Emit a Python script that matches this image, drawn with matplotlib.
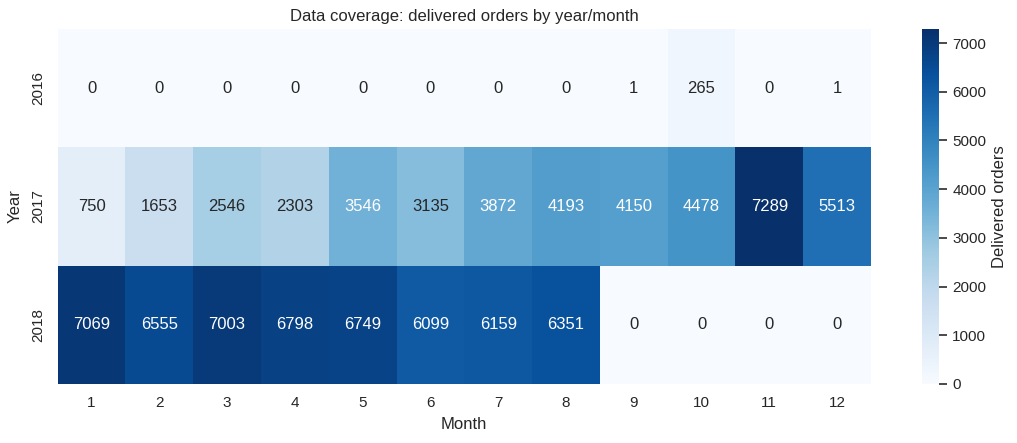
import numpy as np
import pandas as pd
import matplotlib
matplotlib.use("Agg")
import matplotlib.pyplot as plt
import seaborn as sns

sns.set_theme()
plt.rcParams['font.family'] = ['Liberation Sans', 'DejaVu Sans']

years = [2016, 2017, 2018]
months = list(range(1, 13))
orders_2016 = [0, 0, 0, 0, 0, 0, 0, 0, 1, 265, 0, 1]
orders_2017 = [750, 1653, 2546, 2303, 3546, 3135, 3872, 4193, 4150, 4478, 7289, 5513]
orders_2018 = [7069, 6555, 7003, 6798, 6749, 6099, 6159, 6351, 0, 0, 0, 0]

df = pd.DataFrame([orders_2016, orders_2017, orders_2018], index=years, columns=months)
df.index.name = "Year"
df.columns.name = "Month"

fig = plt.figure(figsize=(10.17, 4.43), dpi=100)
ax = fig.add_axes([0.0567, 0.1332, 0.7997, 0.8013])
cax = fig.add_axes([0.9066, 0.1332, 0.0167, 0.8013])

sns.heatmap(df, annot=True, fmt="d", cmap="Blues", ax=ax, cbar_ax=cax,
            cbar_kws={"label": "Delivered orders"})
ax.set_title("Data coverage: delivered orders by year/month")
ax.tick_params(axis="both", length=0, pad=9)
ax.xaxis.labelpad = 5
ax.yaxis.labelpad = 6
cax.tick_params(axis="y", right=True, length=5.5, width=1.25, pad=4,
                color="#333333")

fig.savefig("out.png", dpi=100)
